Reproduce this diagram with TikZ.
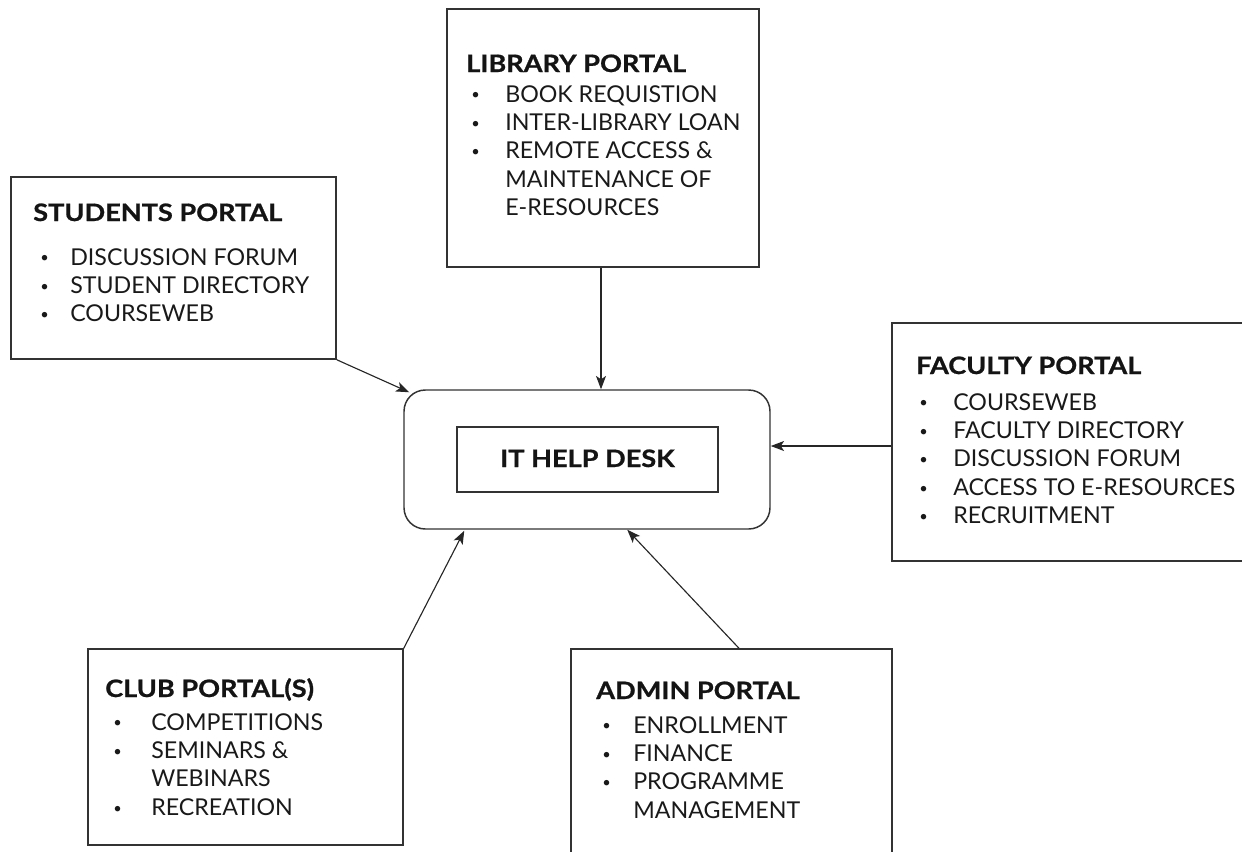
\documentclass[tikz,border=0pt]{standalone}
\usepackage{fontspec}
\usepackage{graphicx}
\setmainfont{Lato}
\newfontfamily\headfont{Lato Bold}[FakeStretch=1.13, FakeBold=0.8]
\usetikzlibrary{arrows.meta,calc,fit}

\tikzset{
  portal/.style={draw=black!80, line width=1.1pt, rectangle, inner sep=0pt},
  helpbox/.style={draw=black!80, line width=1.1pt, rectangle, rounded corners=16pt, inner sep=0pt},
  innerbox/.style={draw=black!80, line width=1.1pt, rectangle, inner sep=0pt},
  title/.style={anchor=base west, inner sep=0pt, text=black!92, font=\headfont\fontsize{18}{21.3}\selectfont},
  items/.style={anchor=base west, inner sep=0pt, text=black!90, font=\fontsize{17.4}{21.3}\selectfont},
  arr/.style={draw=black!85, line width=0.85pt, -{Stealth[length=10pt,width=7.5pt,inset=2.5pt]}},
}
% bullet list: #1 = gap from bullet to text (pt), #2 = rows
\newcommand{\bulletlist}[2]{\renewcommand{\arraystretch}{1}\begin{tabular}[t]{@{}p{#1}@{}l@{}}#2\end{tabular}}
\newcommand{\bl}{\raisebox{1.6pt}{\fontsize{11}{11}\selectfont\textbullet}}

\begin{document}
\begin{tikzpicture}[x=0.75pt,y=-0.75pt]
\useasboundingbox (0,0) rectangle (1242,851);
\clip (0,0) rectangle (1242,851);

% central help desk
\node[helpbox, fit={(404,390) (770,529)}] (help) {};
\node[innerbox, fit={(457,427) (718,492)}] (desk) {};
\node[title, anchor=base] (desktxt) at (587.5,467) {IT HELP DESK};

% library portal
\node[portal, fit={(447,9) (759,267)}] (lib) {};
\node[title] (libtitle) at (466,72) {LIBRARY PORTAL};
\node[items] (libitems) at (471,102) {\bulletlist{25.5pt}{%
  \bl & BOOK REQUISTION\\
  \bl & INTER-LIBRARY LOAN\\
  \bl & REMOTE ACCESS \&\\
      & MAINTENANCE OF\\
      & E-RESOURCES}};

% students portal
\node[portal, fit={(11,177) (336,359)}] (stu) {};
\node[title] (stutitle) at (33,221) {STUDENTS PORTAL};
\node[items] (stuitems) at (40,265) {\bulletlist{22.5pt}{%
  \bl & DISCUSSION FORUM\\
  \bl & STUDENT DIRECTORY\\
  \bl & COURSEWEB}};

% faculty portal
\node[portal, fit={(892,323) (1260,561)}] (fac) {};
\node[title] (factitle) at (916,374) {FACULTY PORTAL};
\node[items] (facitems) at (919,410) {\bulletlist{25.5pt}{%
  \bl & COURSEWEB\\
  \bl & FACULTY DIRECTORY\\
  \bl & DISCUSSION FORUM\\
  \bl & ACCESS TO E-RESOURCES\\
  \bl & RECRUITMENT}};

% club portals
\node[portal, fit={(88,649) (403,845)}] (club) {};
\node[title] (clubtitle) at (105,697) {CLUB PORTAL(S)};
\node[items] (clubitems) at (113,730) {\bulletlist{28.5pt}{%
  \bl & COMPETITIONS\\
  \bl & SEMINARS \&\\
      & WEBINARS\\
  \bl & RECREATION}};

% admin portal
\node[portal, fit={(571,649) (892,880)}] (adm) {};
\node[title] (admtitle) at (596,699) {ADMIN PORTAL};
\node[items] (admitems) at (602,733) {\bulletlist{23.25pt}{%
  \bl & ENROLLMENT\\
  \bl & FINANCE\\
  \bl & PROGRAMME\\
      & MANAGEMENT}};

% connectors into the help desk
\draw[arr] ($(lib.south)+(-2,0)$) -- ($(help.north)+(14,0)$);
\draw[arr] (stu.south east) -- ($(help.north west)+(6,3)$);
\draw[arr] ($(fac.west)+(0,4)$) -- (help.east |- {$(fac.west)+(0,4)$});
\draw[arr] (club.north east) -- ($(help.south west)+(61,1)$);
\draw[arr] ($(adm.north)+(7.5,0)$) -- ($(help.south west)+(224,0)$);
\end{tikzpicture}
\end{document}
